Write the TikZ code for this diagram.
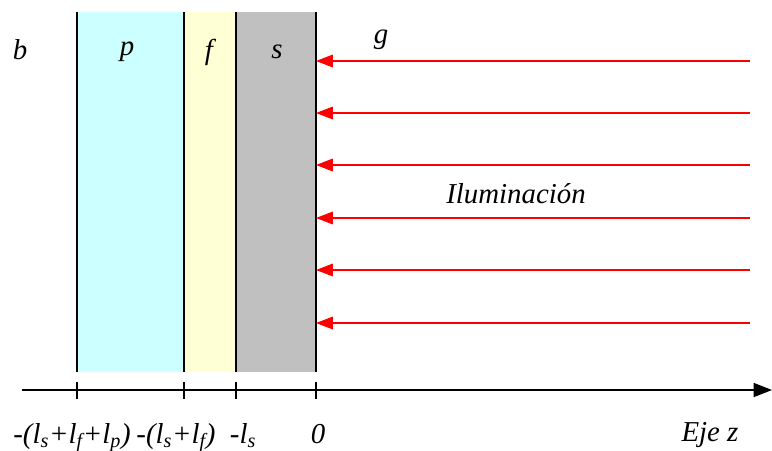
\documentclass[tikz,border=0pt]{standalone}
\usepackage{fontspec}
\setmainfont{LiberationSerif-Regular.ttf}[ItalicFont=LiberationSerif-Italic.ttf]
\usetikzlibrary{arrows.meta}

\definecolor{pcyan}{RGB}{204,255,255}
\definecolor{fyellow}{RGB}{255,255,214}
\definecolor{sgray}{RGB}{192,192,192}

\newcommand{\sub}[1]{\textsubscript{#1}}

\begin{document}
\begin{tikzpicture}[
  x=0.025cm, y=-0.025cm,
  font=\fontsize{20.5}{23}\selectfont\itshape,
  layer/.style={draw=black, line width=0.8pt},
  beam/.style={red, line width=0.8pt, -{Triangle[length=12pt, width=9pt]}},
  axislabel/.style={anchor=base, inner sep=0pt}
]
  \useasboundingbox (0,0) rectangle (772,450);

  % Layers: p, f and s, from left to right
  \fill[pcyan]   (77,12)  rectangle (184,372);
  \fill[fyellow] (184,12) rectangle (236,372);
  \fill[sgray]   (236,12) rectangle (316,372);
  \foreach \x in {77,184,236,316}
    \draw[layer] (\x,12) -- (\x,372);

  % Axis with ticks
  \coordinate (zL) at (22,390);
  \coordinate (zR) at (772,390);
  \draw[line width=0.8pt, -{Triangle[length=13pt, width=10pt]}] (zL) -- (zR);
  \foreach \x in {77,184,236,316}
    \draw[line width=0.8pt] (\x,382) -- (\x,399);

  % Region labels
  \node (b) at (20,50) {b};
  \node (p) at (127,52) {p};
  \node (f) at (209,52) {f};
  \node (s) at (277,52) {s};
  \node (g) at (381,40) {g};

  % Illumination
  \foreach \y [count=\i] in {61,113,165,218,270,323} {
    \coordinate (src\i) at (750,\y);
    \coordinate (hit\i) at (316,\y);
    \draw[beam] (src\i) -- (hit\i);
  }
  \node (ilum) at (516,194) {Iluminación};

  % Axis labels
  \node[axislabel] (tp) at (72,443) {-(l\sub{s}+l\sub{f}+l\sub{p})};
  \node[axislabel] (tf) at (176,443) {-(l\sub{s}+l\sub{f})};
  \node[axislabel] (ts) at (243,443) {-l\sub{s}};
  \node[axislabel] (t0) at (318,443) {0};
  \node[axislabel] (eje) at (710,441) {Eje z};

\end{tikzpicture}
\end{document}
